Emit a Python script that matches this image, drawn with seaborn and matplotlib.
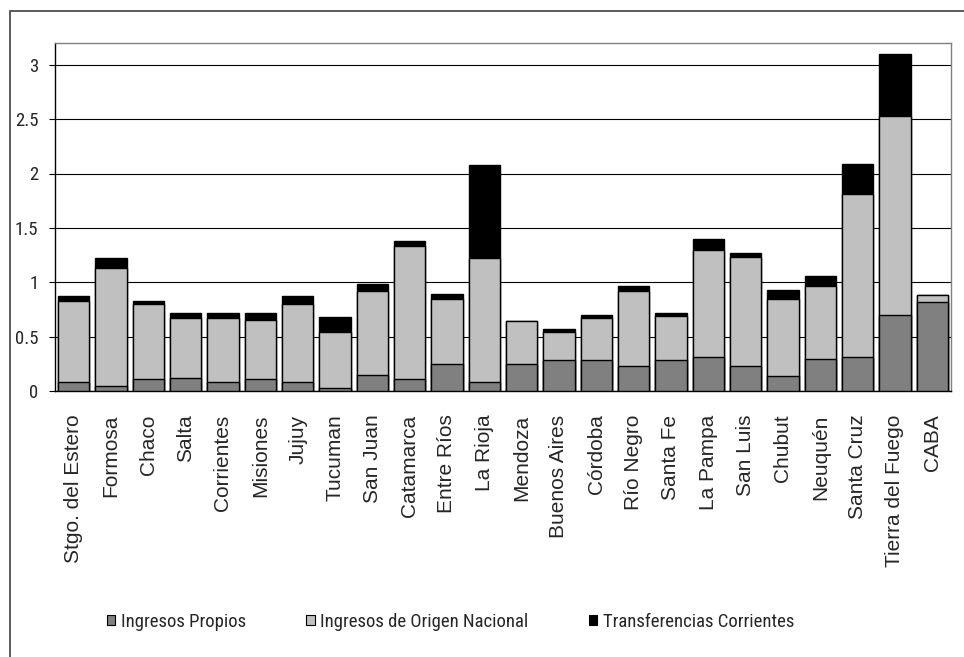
import numpy as np
import pandas as pd
import matplotlib
matplotlib.use("Agg")
import matplotlib.pyplot as plt
import seaborn as sns
from matplotlib import font_manager
from matplotlib.patches import Patch, Rectangle

# data
provincias = [
    "Stgo. del Estero", "Formosa", "Chaco", "Salta", "Corrientes", "Misiones",
    "Jujuy", "Tucuman", "San Juan", "Catamarca", "Entre Ríos", "La Rioja",
    "Mendoza", "Buenos Aires", "Córdoba", "Río Negro", "Santa Fe", "La Pampa",
    "San Luis", "Chubut", "Neuquén", "Santa Cruz", "Tierra del Fuego", "CABA",
]
ingresos_propios = [
    0.086, 0.05, 0.107, 0.123, 0.086, 0.107, 0.086, 0.03, 0.144, 0.107, 0.25, 0.086,
    0.249, 0.282, 0.282, 0.23, 0.282, 0.316, 0.23, 0.141, 0.298, 0.316, 0.697, 0.817,
]
ingresos_nacional = [
    0.744, 1.083, 0.693, 0.547, 0.584, 0.547, 0.714, 0.51, 0.776, 1.223, 0.597, 1.139,
    0.393, 0.264, 0.393, 0.694, 0.412, 0.983, 0.998, 0.706, 0.663, 1.499, 1.83, 0.07,
]
transferencias = [
    0.048, 0.086, 0.023, 0.045, 0.045, 0.061, 0.078, 0.14, 0.06, 0.048, 0.046, 0.85,
    0.0, 0.025, 0.025, 0.043, 0.021, 0.095, 0.04, 0.083, 0.095, 0.276, 0.571, 0.0,
]
y_ticks = [0, 0.5, 1, 1.5, 2, 2.5, 3]
y_tick_labels = ["0", "0.5", "1", "1.5", "2", "2.5", "3"]
series_names = ["Ingresos Propios", "Ingresos de Origen Nacional", "Transferencias Corrientes"]
series_colors = ["#808080", "#c0c0c0", "#000000"]

df = pd.DataFrame({
    "provincia": provincias,
    "propios": ingresos_propios,
    "nacional": ingresos_nacional,
    "transf": transferencias,
})
df["nivel1"] = df["propios"]
df["nivel2"] = df["propios"] + df["nacional"]
df["nivel3"] = df["nivel2"] + df["transf"]

# narrow font for legend and y labels, like Arial Narrow in the original
available = {f.name for f in font_manager.fontManager.ttflist}
narrow = "Liberation Sans"
for cand in ["Liberation Sans Narrow", "Arial Narrow", "Roboto Condensed", "Archivo Narrow"]:
    if cand in available:
        narrow = cand
        break

sns.set_style("white")
plt.rcParams["font.family"] = ["Liberation Sans", "DejaVu Sans"]

W, H = 964, 657
fig = plt.figure(figsize=(W / 100, H / 100), dpi=100)
ax = fig.add_axes([55 / W, (H - 391) / H, 896 / W, (391 - 43) / H])

# stacked bars drawn tallest first, then overlaid
for col, color in zip(["nivel3", "nivel2", "nivel1"], series_colors[::-1]):
    sns.barplot(data=df, x="provincia", y=col, color=color, width=0.84,
                edgecolor="black", linewidth=1.0, saturation=1, ax=ax, zorder=3)

ax.set_xlim(-0.5, len(provincias) - 0.5)
ax.set_ylim(0, 3.2)
ax.set_yticks(y_ticks)
ax.set_yticklabels(y_tick_labels, fontfamily=narrow, fontsize=13.5)
ax.yaxis.grid(True, color="black", linewidth=0.8, zorder=0)
ax.set_axisbelow(True)
ax.set_xlabel("")
ax.set_ylabel("")

ax.set_xticks(range(len(provincias)))
ax.set_xticklabels(provincias, rotation=90, fontsize=15)
ax.set_xticks(np.arange(-0.5, len(provincias), 1), minor=True)
ax.tick_params(axis="x", which="major", length=0, pad=17)
ax.tick_params(axis="x", which="minor", length=5, width=0.8, color="black", direction="out")
ax.tick_params(axis="y", length=4, width=0.8, color="black", direction="out", pad=8, left=True)

for side in ["top", "right"]:
    ax.spines[side].set_color("#808080")
    ax.spines[side].set_linewidth(1.0)
for side in ["left", "bottom"]:
    ax.spines[side].set_color("black")
    ax.spines[side].set_linewidth(1.0)

handles = [Patch(facecolor=c, edgecolor="black", linewidth=0.8) for c in series_colors]
fig.legend(handles, series_names, loc="center left", bbox_to_anchor=(107 / W, 1 - 622 / H),
           ncol=3, frameon=False, prop={"family": narrow, "size": 13.5},
           handlelength=0.45, handleheight=0.45, handletextpad=0.3, columnspacing=3.2,
           borderaxespad=0, borderpad=0)

# outer chart frame
fig.patches.append(Rectangle((10 / W, -0.1), 1.2, 1 - 11 / H + 0.1, transform=fig.transFigure,
                             fill=False, edgecolor="#404040", linewidth=1.2))

fig.savefig("out.png", dpi=100)
